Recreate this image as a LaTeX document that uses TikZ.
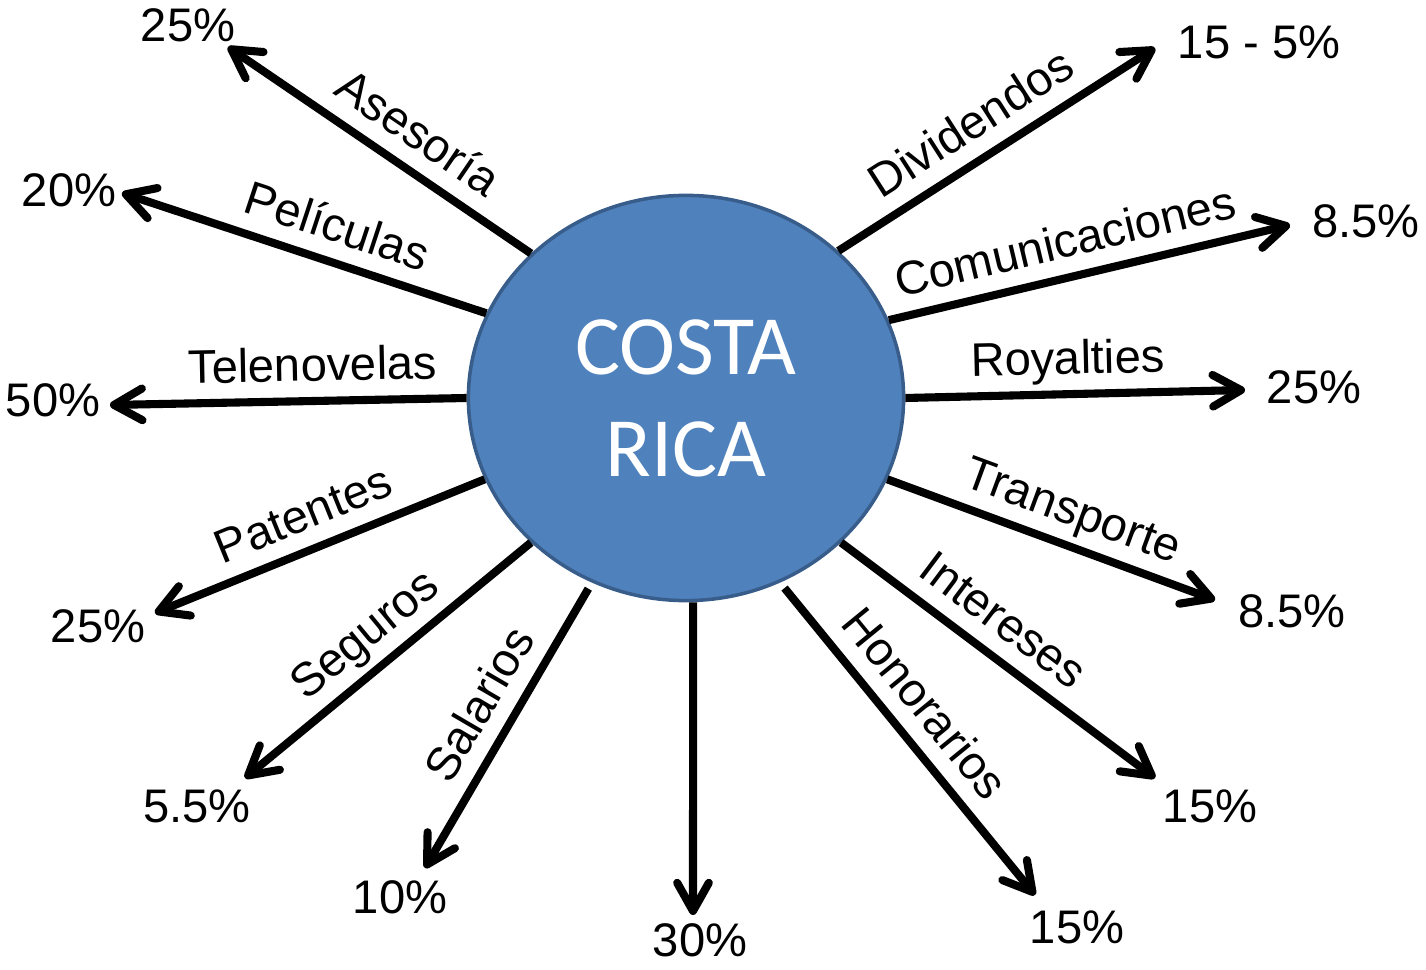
\documentclass[tikz,border=0pt]{standalone}
\usepackage{fontspec}
\setmainfont{Liberation Sans}
\newfontfamily\carlito{Carlito}
\usetikzlibrary{arrows.meta,shapes.geometric}
\definecolor{crblue}{HTML}{4F81BD}
\definecolor{crline}{HTML}{385D8A}

\begin{document}
\begin{tikzpicture}
[x=0.01cm,y=-0.01cm,
 every node/.style={font=\fontsize{13.4}{16}\selectfont},
 flow/.style={line width=2.3pt,-{Straight Barb[length=8pt,width=9pt,line cap=round,line join=round]}},
 lbl/.style={sloped,above,inner sep=4.5pt,text depth=0pt},
 gap/.style={shorten <=2pt},
 flush/.style={}]
\useasboundingbox (0,0) rectangle (1426,970);
\node[ellipse,draw=crline,line width=1pt,fill=crblue,minimum width=4.35cm,minimum height=4.05cm,inner sep=0pt,align=center,text=white,font=\carlito\fontsize{24}{29}\selectfont] (cr) at (686,398) {COSTA\\RICA};
% arrow tips
\coordinate (tAse) at (228,47);
\coordinate (tPel) at (122,193);
\coordinate (tTel) at (110,405);
\coordinate (tPat) at (155,613);
\coordinate (tSeg) at (245,778);
\coordinate (tSal) at (425,868);
\coordinate (tTre) at (693,915);
\coordinate (tHon) at (1035,895);
\coordinate (tInt) at (1155,778);
\coordinate (tTra) at (1215,600);
\coordinate (tRoy) at (1245,390);
\coordinate (tCom) at (1290,225);
\coordinate (tDiv) at (1155,48);
% rates
\node (pAse) at (188,25) {25\%};
\node (pPel) at (69,190) {20\%};
\node (pTel) at (53,400) {50\%};
\node (pPat) at (98,626) {25\%};
\node (pSeg) at (197,806) {5.5\%};
\node (pSal) at (400,897) {10\%};
\node (pTre) at (700,940) {30\%};
\node (pHon) at (1077,927) {15\%};
\node (pInt) at (1210,806) {15\%};
\node (pTra) at (1292,611) {8.5\%};
\node (pRoy) at (1314,387) {25\%};
\node (pCom) at (1366,221) {8.5\%};
\node (pDiv) at (1259,42) {15 - 5\%};
\foreach \a/\t/\p/\l/\o in {137/tAse/.44/Asesoría/flush,157/tPel/.44/Películas/flush,
  180/tTel/.43/Telenovelas/flush,202/tPat/.51/Patentes/flush,223/tSeg/.505/Seguros/flush,
  243/tSal/.49/Salarios/gap,297/tHon/.46/Honorarios/gap,317/tInt/.45/Intereses/flush,
  338/tTra/.53/Transporte/flush,0/tRoy/.48/Royalties/flush,21/tCom/.46/Comunicaciones/flush,
  44/tDiv/.48/Dividendos/flush}
\draw[flow,\o] (cr.\a) -- (\t) node[lbl,pos=\p] {\l};
\draw[flow] (cr.272) -- (tTre);
\end{tikzpicture}
\end{document}
